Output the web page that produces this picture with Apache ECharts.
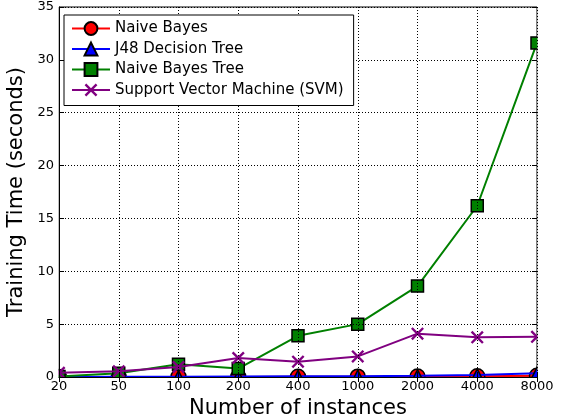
<!DOCTYPE html>
<html>
<head>
<meta charset="utf-8">
<script src="https://cdn.jsdelivr.net/npm/echarts@6/dist/echarts.min.js"></script>
<style>
  html, body { margin: 0; padding: 0; background: #fff; overflow: hidden; }
  #chart { width: 100vw; height: 100vh; }
</style>
</head>
<body>
<div id="chart"></div>
<script>
// Training time (seconds) versus number of instances
const instances = ['20', '50', '100', '200', '400', '1000', '2000', '4000', '8000'];
const naiveBayes = [0.0, 0.0, 0.01, 0.01, 0.02, 0.03, 0.05, 0.07, 0.12];
const j48Tree = [0.01, 0.02, 0.03, 0.04, 0.06, 0.08, 0.13, 0.2, 0.35];
const nbTree = [0.05, 0.35, 1.2, 0.8, 3.9, 5.0, 8.6, 16.2, 31.6];
const svm = [0.4, 0.55, 0.95, 1.8, 1.45, 1.95, 4.1, 3.75, 3.8];
const yTicks = [0, 5, 10, 15, 20, 25, 30, 35];

const FONT = 'DejaVu Sans';
const GRID = { left: 59, right: 31, top: 7, bottom: 42 };

// filled "x" marker outline
const crossPath = 'path://M0,1.3L1.3,0L5,3.7L8.7,0L10,1.3L6.3,5L10,8.7L8.7,10L5,6.3L1.3,10L0,8.7L3.7,5Z';

function lineSeries(name, data, color, symbol, size, z, border) {
  return {
    name, type: 'line', data, z,
    symbol, symbolSize: size, showAllSymbol: true,
    lineStyle: { color, width: 2 },
    itemStyle: border
      ? { color, borderColor: '#000', borderWidth: 1.5 }
      : { color, borderWidth: 0 },
    emphasis: { disabled: true },
    animation: false
  };
}

const chart = echarts.init(document.getElementById('chart'), null, { renderer: 'canvas' });
const W = chart.getWidth(), H = chart.getHeight();
const plotW = W - GRID.left - GRID.right;
const plotH = H - GRID.top - GRID.bottom;

chart.setOption({
  backgroundColor: '#fff',
  animation: false,
  grid: { left: GRID.left, right: GRID.right, top: GRID.top, bottom: GRID.bottom,
          containLabel: false, outerBoundsMode: 'none',
          show: true, borderColor: '#000', borderWidth: 1, backgroundColor: 'transparent' },
  legend: {
    orient: 'vertical', left: 64, top: 15,
    padding: [6, 10, 8, 7], itemGap: 5.5,
    itemWidth: 38, itemHeight: 16,
    backgroundColor: '#fff', borderColor: '#000', borderWidth: 1,
    textStyle: { fontFamily: FONT, fontSize: 15, color: '#000' },
    data: ['Naive Bayes', 'J48 Decision Tree', 'Naive Bayes Tree', 'Support Vector Machine (SVM)'],
    z: 60
  },
  xAxis: [{
    type: 'category', data: instances, boundaryGap: false, z: 50,
    name: 'Number of instances', nameLocation: 'middle', nameGap: 18,
    nameTextStyle: { fontFamily: FONT, fontSize: 21, color: '#000' },
    axisLine: { lineStyle: { color: '#000', width: 1 } },
    axisTick: { inside: true, length: 5, alignWithLabel: true, lineStyle: { color: '#000' } },
    axisLabel: { fontFamily: FONT, fontSize: 13, color: '#000', margin: 3, interval: 0 },
    splitLine: { show: true, lineStyle: { color: '#000', type: [1, 2], width: 1 } }
  }, {
    type: 'category', data: instances, boundaryGap: false, position: 'top', z: 50,
    axisLine: { show: false },
    axisTick: { inside: true, length: 5, lineStyle: { color: '#000' } },
    axisLabel: { show: false }, splitLine: { show: false }
  }],
  yAxis: [{
    type: 'value', min: yTicks[0], max: yTicks[yTicks.length - 1], interval: 5, z: 50,
    name: 'Training Time (seconds)', nameLocation: 'middle', nameGap: 24,
    nameTextStyle: { fontFamily: FONT, fontSize: 21, color: '#000' },
    axisLine: { show: true, lineStyle: { color: '#000', width: 1 } },
    axisTick: { show: true, inside: true, length: 5, lineStyle: { color: '#000' } },
    axisLabel: { fontFamily: FONT, fontSize: 13, color: '#000', margin: 5 },
    splitLine: { show: true, lineStyle: { color: '#000', type: [1, 2], width: 1 } }
  }, {
    type: 'value', min: yTicks[0], max: yTicks[yTicks.length - 1], interval: 5, position: 'right', z: 50,
    axisLine: { show: false },
    axisTick: { show: true, inside: true, length: 5, lineStyle: { color: '#000' } },
    axisLabel: { show: false }, splitLine: { show: false }
  }],
  // white frame outside the plot area so markers are cut at the axes
  graphic: [
    { type: 'rect', z: 40, silent: true, shape: { x: 0, y: GRID.top + plotH + 0.5, width: W, height: 10 }, style: { fill: '#fff' } },
    { type: 'rect', z: 40, silent: true, shape: { x: GRID.left - 10, y: GRID.top, width: 9.5, height: plotH + 10 }, style: { fill: '#fff' } },
    { type: 'rect', z: 40, silent: true, shape: { x: GRID.left + plotW + 0.5, y: GRID.top, width: 10, height: plotH + 10 }, style: { fill: '#fff' } }
  ],
  series: [
    lineSeries('Naive Bayes', naiveBayes, '#ff0000', 'circle', 15, 2, true),
    lineSeries('J48 Decision Tree', j48Tree, '#0000ff', 'triangle', 12, 3, true),
    lineSeries('Naive Bayes Tree', nbTree, '#008000', 'rect', 12, 4, true),
    lineSeries('Support Vector Machine (SVM)', svm, '#800080', crossPath, 13, 5, false)
  ]
});
</script>
</body>
</html>
